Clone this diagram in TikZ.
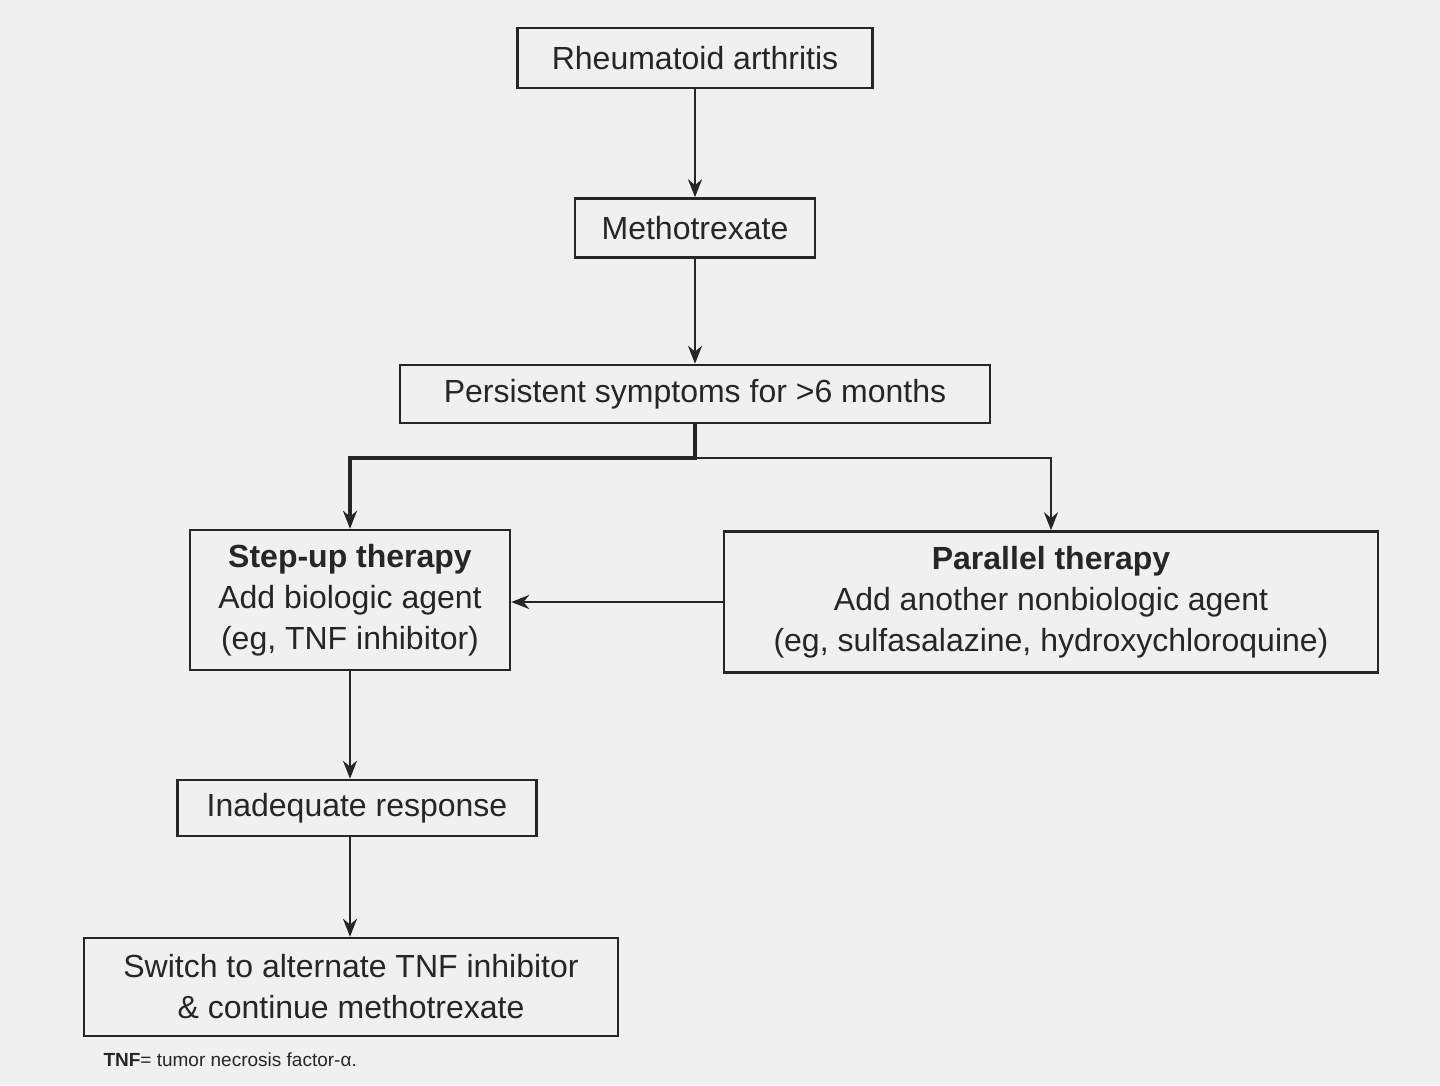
\documentclass[tikz,border=0pt]{standalone}
\usepackage{fontspec}
\setmainfont{Liberation Sans}
\usetikzlibrary{arrows.meta}
\begin{document}
\begin{tikzpicture}[x=1pt,y=-1pt,
  box/.style={draw=black!85,line width=2.5pt,inner sep=0pt,align=center,font=\fontsize{32}{41}\selectfont,text=black!85},
  arr/.style={draw=black!85,line width=2.5pt,-{Stealth[length=18pt,width=14pt]}}]
\fill[black!6] (0,0) rectangle (1440,1085);
\useasboundingbox (0,0) rectangle (1440,1085);
\node[box,minimum width=355pt,minimum height=60pt] (ra) at (695,58) {Rheumatoid arthritis};
\node[box,minimum width=240pt,minimum height=59pt] (mtx) at (695,228) {Methotrexate};
\node[box,minimum width=590pt,minimum height=58pt] (ps) at (695,394) {Persistent symptoms for >6 months};
\node[box,minimum width=320pt,minimum height=140pt] (su) at (350,600) {\textbf{Step-up therapy}\\Add biologic agent\\(eg, TNF inhibitor)};
\node[box,minimum width=654pt,minimum height=141pt] (pt) at (1051,602) {\textbf{Parallel therapy}\\Add another nonbiologic agent\\(eg, sulfasalazine, hydroxychloroquine)};
\node[box,minimum width=359pt,minimum height=56pt] (ia) at (357,808) {Inadequate response};
\node[box,minimum width=534pt,minimum height=98pt] (sw) at (351,987) {Switch to alternate TNF inhibitor\\\& continue methotrexate};
\node[anchor=west,font=\fontsize{19}{22}\selectfont,text=black!85] (fn) at (100,1060) {\textbf{TNF}= tumor necrosis factor-α.};
\coordinate (j) at (695,458);
\draw[arr] (ra) -- (mtx);
\draw[arr] (mtx) -- (ps);
\draw[arr,line width=3.5pt] (ps.south) -- (j) -| (su.north);
\draw[arr] (j) -| (pt.north);
\draw[arr] (pt.west) -- (pt.west -| su.east);
\draw[arr] (su.south) -- (su.south |- ia.north);
\draw[arr] (ia.south -| su.south) -- (su.south |- sw.north);
\end{tikzpicture}
\end{document}
